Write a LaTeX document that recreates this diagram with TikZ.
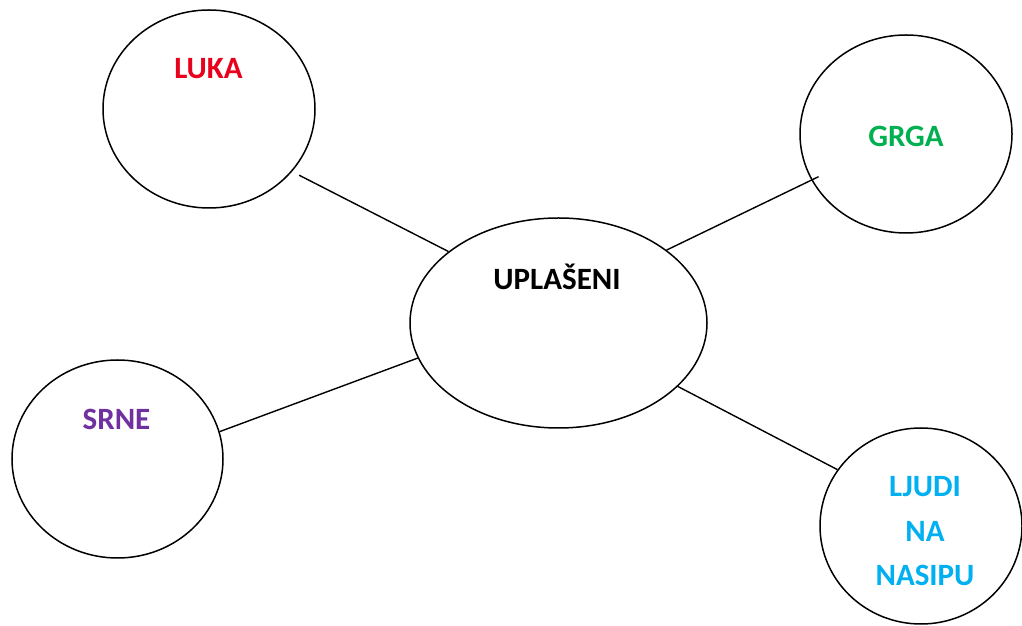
\documentclass[tikz,border=0pt]{standalone}
\usepackage{fontspec}
\setmainfont{Carlito}
\usetikzlibrary{shapes.geometric}
\definecolor{lukared}{HTML}{E8001C}
\definecolor{grgagreen}{HTML}{00B050}
\definecolor{srnepurple}{HTML}{7030A0}
\definecolor{ljudiblue}{HTML}{00B0F0}
\begin{document}
\begin{tikzpicture}[x=1pt,y=1pt,
  bubble/.style={draw=black, line width=1.5pt, ellipse, inner sep=0pt},
  word/.style={font=\fontsize{31}{36}\selectfont\bfseries, anchor=base, inner sep=0pt},
  link/.style={draw=black, line width=1.4pt}]
\useasboundingbox (0,0) rectangle (1022,626);
\fill[white] (0,0) rectangle (1022,626);
% shapes
\node[bubble, minimum width=297pt, minimum height=210pt] (c) at (558.5,303) {};
\node[bubble, minimum width=212pt, minimum height=198pt] (luka) at (209,517) {};
\node[bubble, minimum width=212pt, minimum height=198pt] (grga) at (906,492) {};
\node[bubble, minimum width=211pt, minimum height=198pt] (srne) at (117.5,167) {};
\node[bubble, minimum width=202pt, minimum height=196pt] (ljudi) at (921,100) {};
% texts
\node[word, text=black] (tc) at (557,336) {UPLAŠENI};
\node[word, text=lukared] (tl) at (208.5,547) {LUKA};
\node[word, text=grgagreen] (tg) at (906,479) {GRGA};
\node[word, text=srnepurple] (ts) at (116.5,196) {SRNE};
\node[word, text=ljudiblue] (tj1) at (925,129) {LJUDI};
\node[word, text=ljudiblue] (tj2) at (925,84) {NA};
\node[word, text=ljudiblue] (tj3) at (925,40) {NASIPU};
% connectors
\draw[link, shorten <=8pt] (luka.-37) -- (c.147);
\draw[link, shorten <=-8pt] (grga.206) -- (c.34);
\draw[link] (srne.15) -- (c.194);
\draw[link] (ljudi.146) -- (c.-28);
\end{tikzpicture}
\end{document}
